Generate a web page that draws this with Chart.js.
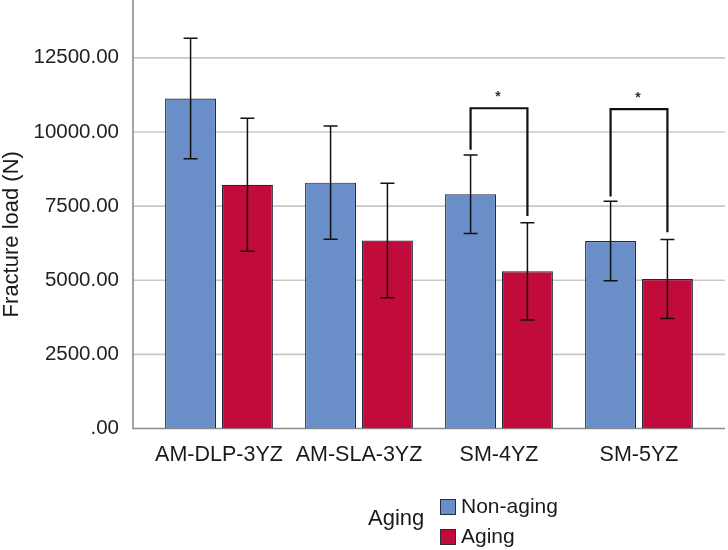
<!DOCTYPE html>
<html><head><meta charset="utf-8">
<script src="https://cdn.jsdelivr.net/npm/chart.js@4/dist/chart.umd.min.js"></script>
<style>
html,body{margin:0;padding:0;background:#fff;}
#wrap{position:relative;width:728px;height:550px;overflow:hidden;}
#legend{position:absolute;left:0;top:0;width:728px;height:550px;pointer-events:none;font-family:"Liberation Sans",Arial,sans-serif;color:#1a1a1a;}
#legend div{position:absolute;white-space:nowrap;}
</style></head><body>
<div id="wrap"><canvas id="c" width="728" height="550"></canvas><div id="legend"></div></div>
<script>
// ---- data ----
const categories = ['AM-DLP-3YZ', 'AM-SLA-3YZ', 'SM-4YZ', 'SM-5YZ'];
const seriesNames = ['Non-aging', 'Aging'];
const legendTitle = 'Aging';
const yTitle = 'Fracture load (N)';
const nonAgingMean = [11130, 8290, 7900, 6320];
const nonAgingSD   = [2030, 1910, 1320, 1340];
const agingMean    = [8220, 6340, 5300, 5040];
const agingSD      = [2240, 1930, 1640, 1330];
const yTicks      = [0, 2500, 5000, 7500, 10000, 12500];
const yTickLabels = ['.00', '2500.00', '5000.00', '7500.00', '10000.00', '12500.00'];
const yMax = 14450;
// significance brackets: category index, bracket top, left end, right end
const sigCategory = [2, 3];
const sigTop      = [10800, 10770];
const sigLeftEnd  = [9400, 7820];
const sigRightEnd = [7170, 6620];
const sigMarks    = ['*', '*'];

// ---- styling ----
const FONT = '"Liberation Sans", Arial, sans-serif';
const colors = ['#6a8ec8', '#c10b3a'];
const EXT = 16; // grid/axis extension beyond category band

const decor = {
  id: 'decor',
  beforeDatasetsDraw(chart) {
    const { ctx, chartArea: a, scales: { y } } = chart;
    const L = a.left - EXT, R = a.right + EXT;
    ctx.save();
    ctx.strokeStyle = '#cbc7c7';
    ctx.lineWidth = 1.6;
    yTicks.forEach(v => {
      if (v === 0) return;
      const py = y.getPixelForValue(v);
      ctx.beginPath(); ctx.moveTo(L, py); ctx.lineTo(R, py); ctx.stroke();
    });
    ctx.strokeStyle = '#8c8c8c';
    ctx.lineWidth = 1.6;
    const y0 = y.getPixelForValue(0);
    ctx.beginPath(); ctx.moveTo(L, a.top); ctx.lineTo(L, y0); ctx.lineTo(R, y0); ctx.stroke();
    ctx.restore();
  },
  afterDatasetsDraw(chart) {
    const { ctx, scales: { y } } = chart;
    const means = [nonAgingMean, agingMean], sds = [nonAgingSD, agingSD];
    ctx.save();
    ctx.strokeStyle = '#111';
    ctx.lineWidth = 1.5;
    means.forEach((m, i) => {
      const meta = chart.getDatasetMeta(i);
      m.forEach((v, j) => {
        const x = meta.data[j].x;
        const yt = y.getPixelForValue(v + sds[i][j]);
        const yb = y.getPixelForValue(v - sds[i][j]);
        ctx.beginPath();
        ctx.moveTo(x, yt); ctx.lineTo(x, yb);
        ctx.moveTo(x - 7, yt); ctx.lineTo(x + 7, yt);
        ctx.moveTo(x - 7, yb); ctx.lineTo(x + 7, yb);
        ctx.stroke();
      });
    });
    // brackets
    ctx.lineWidth = 2.2;
    ctx.lineJoin = 'miter';
    const m0 = chart.getDatasetMeta(0), m1 = chart.getDatasetMeta(1);
    sigCategory.forEach((c, k) => {
      const x1 = m0.data[c].x, x2 = m1.data[c].x;
      const yt = y.getPixelForValue(sigTop[k]);
      ctx.beginPath();
      ctx.moveTo(x1, y.getPixelForValue(sigLeftEnd[k]));
      ctx.lineTo(x1, yt); ctx.lineTo(x2, yt);
      ctx.lineTo(x2, y.getPixelForValue(sigRightEnd[k]));
      ctx.stroke();
      ctx.fillStyle = '#333';
      ctx.font = 'bold 14px ' + FONT;
      ctx.textAlign = 'center';
      ctx.textBaseline = 'alphabetic';
      ctx.fillText(sigMarks[k], (x1 + x2) / 2 - 1, yt - 7);
    });
    ctx.restore();
  },
  afterDraw(chart) {
    const { ctx, chartArea: a } = chart;
    ctx.save();
    ctx.translate(18, (a.top + a.bottom) / 2 + 20);
    ctx.rotate(-Math.PI / 2);
    ctx.font = '22px ' + FONT;
    ctx.fillStyle = '#1a1a1a';
    ctx.textAlign = 'center';
    ctx.textBaseline = 'alphabetic';
    ctx.fillText(yTitle, 0, 0);
    ctx.restore();
  }
};

const chart = new Chart(document.getElementById('c'), {
  type: 'bar',
  data: {
    labels: categories,
    datasets: [
      { label: seriesNames[0], data: nonAgingMean, backgroundColor: colors[0], borderColor: '#23263a', borderWidth: 1.2 },
      { label: seriesNames[1], data: agingMean, backgroundColor: colors[1], borderColor: '#23263a', borderWidth: 1.2 }
    ]
  },
  options: {
    responsive: false,
    animation: false,
    categoryPercentage: 0.812,
    barPercentage: 0.897,
    layout: { padding: { left: 0, right: 19, top: 0, bottom: 81.5 } },
    plugins: { legend: { display: false }, tooltip: { enabled: false } },
    scales: {
      x: {
        grid: { display: false, drawTicks: false },
        border: { display: false },
        ticks: { font: { family: FONT, size: 21.5 }, color: '#1a1a1a', padding: 14, maxRotation: 0, autoSkip: false },
        afterFit(s) { s.height = 40; s.paddingLeft = 0; s.paddingRight = 0; }
      },
      y: {
        min: 0, max: yMax,
        grid: { display: false, drawTicks: false },
        border: { display: false },
        afterBuildTicks(s) { s.ticks = yTicks.map(v => ({ value: v })); },
        ticks: { font: { family: FONT, size: 20.5 }, color: '#222', padding: 30, callback: (v, i) => yTickLabels[i] },
        afterFit(s) { s.width = 149; s.paddingTop = 0; s.paddingBottom = 0; }
      }
    }
  },
  plugins: [decor]
});

// legend built from the datasets
const lg = document.getElementById('legend');
const t = document.createElement('div');
t.textContent = legendTitle;
t.style.cssText = 'left:368px;top:506px;font-size:22px;line-height:24px;';
lg.appendChild(t);
chart.data.datasets.forEach((ds, i) => {
  const top = 494 + i * 30;
  const box = document.createElement('div');
  box.style.cssText = `left:440px;top:${top + 5}px;width:14px;height:14px;background:${ds.backgroundColor};border:1px solid #2a2d3c;`;
  lg.appendChild(box);
  const tx = document.createElement('div');
  tx.textContent = ds.label;
  tx.style.cssText = `left:461px;top:${top}px;font-size:21px;line-height:24px;`;
  lg.appendChild(tx);
});
</script>
</body></html>
